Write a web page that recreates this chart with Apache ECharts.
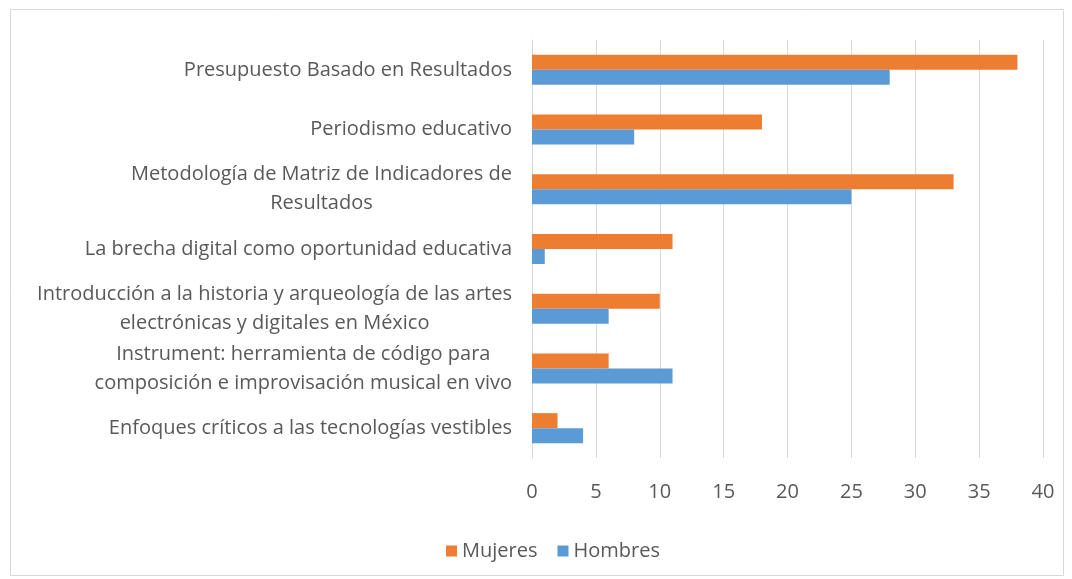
<!DOCTYPE html>
<html>
<head>
<meta charset="utf-8">
<script src="https://cdn.jsdelivr.net/npm/echarts@6/dist/echarts.min.js"></script>
<style>
    html, body { margin: 0; padding: 0; background: #fff; }
    #chart { width: 1072px; height: 579px; }
</style>
</head>
<body>
<div id="chart"></div>
<script>
    // categories, top to bottom
    var categories = [
        'Presupuesto Basado en Resultados',
        'Periodismo educativo',
        'Metodología de Matriz de Indicadores de\nResultados',
        'La brecha digital como oportunidad educativa',
        'Introducción a la historia y arqueología de las artes\nelectrónicas y digitales en México',
        'Instrument: herramienta de código para\ncomposición e improvisación musical en vivo',
        'Enfoques críticos a las tecnologías vestibles'
    ];
    var mujeres = [38, 18, 33, 11, 10, 6, 2];
    var hombres = [28, 8, 25, 1, 6, 11, 4];
    var seriesNames = ['Mujeres', 'Hombres'];

    var textColor = '#595959';
    var fontFamily = '"Open Sans", "Noto Sans", sans-serif';

    var myChart = echarts.init(document.getElementById('chart'));
    var option = {
        animation: false,
        textStyle: { fontFamily: fontFamily },
        graphic: [{
            type: 'rect',
            shape: { x: 10.5, y: 9.5, width: 1053, height: 566 },
            style: { fill: 'none', stroke: '#d9d9d9', lineWidth: 1 },
            silent: true
        }],
        legend: {
            data: seriesNames,
            top: 536,
            left: 441,
            itemWidth: 11,
            itemHeight: 11,
            itemGap: 20,
            icon: 'rect',
            textStyle: { color: textColor, fontSize: 20, fontFamily: fontFamily }
        },
        grid: {
            left: 532,
            right: 29,
            top: 40,
            bottom: 121
        },
        xAxis: {
            type: 'value',
            min: 0,
            max: 40,
            interval: 5,
            axisLine: { show: false },
            axisTick: { show: false },
            splitLine: { lineStyle: { color: '#d9d9d9', width: 1 } },
            axisLabel: { color: textColor, fontSize: 20, margin: 24, fontFamily: fontFamily }
        },
        yAxis: {
            type: 'category',
            data: categories,
            inverse: true,
            axisLine: { show: true, lineStyle: { color: '#d9d9d9' } },
            axisTick: { show: false },
            axisLabel: {
                margin: 20,
                align: 'right',
                // wrapped lines are centred under each other, like the original
                formatter: function (value) {
                    return value.split('\n').map(function (line) {
                        return '{c|' + line + '}';
                    }).join('\n');
                },
                rich: {
                    c: {
                        align: 'center',
                        color: textColor,
                        fontSize: 20,
                        lineHeight: 29,
                        fontFamily: fontFamily
                    }
                }
            }
        },
        series: [
            {
                name: seriesNames[0],
                type: 'bar',
                data: mujeres,
                barWidth: 15,
                barGap: '0%',
                itemStyle: { color: '#ED7D31' }
            },
            {
                name: seriesNames[1],
                type: 'bar',
                data: hombres,
                barWidth: 15,
                barGap: '0%',
                itemStyle: { color: '#5B9BD5' }
            }
        ]
    };
    myChart.setOption(option);
    window.onresize = function () {
        myChart.resize();
    };
</script>
</body>
</html>
